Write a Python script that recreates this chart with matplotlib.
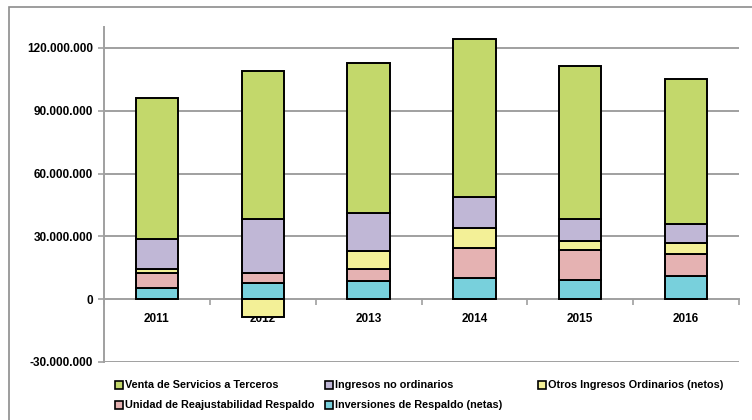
import matplotlib
matplotlib.use("Agg")
import matplotlib.pyplot as plt
import matplotlib.patches as mpatches
from matplotlib import font_manager
import numpy as np

# Ingresos por año, en pesos
years = ['2011', '2012', '2013', '2014', '2015', '2016']
inversiones = [5.4e6, 7.5e6, 8.9e6, 10.1e6, 9.4e6, 11.0e6]
reajustabilidad = [7.2e6, 5.2e6, 5.4e6, 14.2e6, 13.9e6, 10.4e6]
otros_ingresos = [1.6e6, -8.7e6, 8.7e6, 9.8e6, 4.6e6, 5.6e6]
no_ordinarios = [14.4e6, 25.4e6, 18.0e6, 14.6e6, 10.2e6, 8.7e6]
venta_servicios = [67.4e6, 71.1e6, 71.7e6, 75.4e6, 73.3e6, 69.7e6]

# stacked from the bottom up
series = [
    ('Inversiones de Respaldo (netas)', inversiones, '#78d0dc'),
    ('Unidad de Reajustabilidad Respaldo', reajustabilidad, '#e5b2b2'),
    ('Otros Ingresos Ordinarios (netos)', otros_ingresos, '#f3f097'),
    ('Ingresos no ordinarios', no_ordinarios, '#c0b7d6'),
    ('Venta de Servicios a Terceros', venta_servicios, '#c3d86b'),
]

installed = {f.name for f in font_manager.fontManager.ttflist}
if 'Liberation Sans Narrow' in installed:
    plt.rcParams['font.family'] = ['Liberation Sans Narrow', 'DejaVu Sans']
    tick_size, legend_size = 9.5, 9
else:
    plt.rcParams['font.family'] = ['Liberation Sans', 'DejaVu Sans']
    tick_size, legend_size = 8.5, 7.8
plt.rcParams['font.weight'] = 'bold'

fig = plt.figure(figsize=(7.52, 4.2), dpi=100)
ax = fig.add_axes([104 / 752, 1 - 362 / 420, 635 / 752, 335 / 420])

x = np.arange(len(years))
pos_bottom = np.zeros(len(years))
neg_bottom = np.zeros(len(years))
for name, vals, color in series:
    vals = np.array(vals)
    bottom = np.where(vals >= 0, pos_bottom, neg_bottom)
    ax.bar(x, vals, 0.4, bottom=bottom, color=color, edgecolor='black',
           linewidth=1.4, zorder=3)
    pos_bottom += np.where(vals >= 0, vals, 0)
    neg_bottom += np.where(vals < 0, vals, 0)

grid_color = '#a0a0a0'
ax.set_xlim(-0.5, len(years) - 0.5)
ax.set_ylim(-30e6, 130e6)
yticks = np.arange(-30e6, 121e6, 30e6)
ax.set_yticks(yticks)
ax.set_yticklabels([f'{v:,.0f}'.replace(',', '.') for v in yticks], fontsize=tick_size)
for v in yticks:
    if v != 0:
        ax.axhline(v, color=grid_color, linewidth=1.4, zorder=1)

# category axis sits on the zero line
ax.spines['bottom'].set_position(('data', 0))
ax.spines['bottom'].set_color(grid_color)
ax.spines['bottom'].set_linewidth(1.4)
ax.spines['bottom'].set_zorder(2)
ax.spines['left'].set_color(grid_color)
ax.spines['left'].set_linewidth(1.4)
ax.spines['top'].set_visible(False)
ax.spines['right'].set_visible(False)

ax.set_xticks(np.arange(-0.5, len(years), 1.0))
ax.set_xticklabels([])
ax.set_xticks(x, minor=True)
ax.set_xticklabels(years, minor=True, fontsize=tick_size)
ax.tick_params(axis='x', which='major', length=4, width=1.2, color=grid_color)
ax.tick_params(axis='x', which='minor', length=0, pad=10)
ax.tick_params(axis='y', length=4, width=1.2, color=grid_color, pad=4)

# legend laid out in fixed columns, row by row
legend_order = [series[4], series[3], series[2], series[1], series[0]]
col_x = [115, 325, 538]
row_y = [385.5, 405.5]
for i, (name, vals, color) in enumerate(legend_order):
    handle = mpatches.Patch(facecolor=color, edgecolor='black', linewidth=1.2)
    fig.legend([handle], [name], loc='center left',
               bbox_to_anchor=(col_x[i % 3] / 752, 1 - row_y[i // 3] / 420),
               frameon=False, fontsize=legend_size, handlelength=0.7, handleheight=0.7,
               handletextpad=0.2, borderpad=0, borderaxespad=0)

# chart area border
fig.add_artist(mpatches.Rectangle((9 / 752, -0.2), 1.2, 1.2 - 7 / 420,
                                  transform=fig.transFigure, fill=False,
                                  edgecolor='#8c8c8c', linewidth=1.2, clip_on=False))

fig.savefig('out.png', dpi=100)
